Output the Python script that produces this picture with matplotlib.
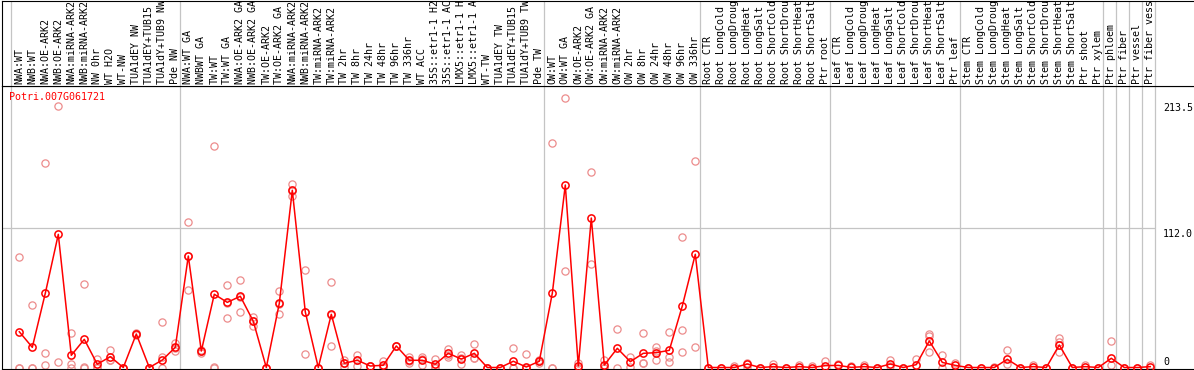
import matplotlib
matplotlib.use("Agg")
import matplotlib.pyplot as plt

# sample names (column headers)
samples = [
    "NWA:WT", "NWB:WT", "NWA:OE-ARK2", "NWB:OE-ARK2", "NWA:miRNA-ARK2", "NWB:miRNA-ARK2",
    "NW 0hr", "WT H2O", "WT-NW", "TUA1dEY NW", "TUA1dEY+TUB15 NW", "TUA1dY+TUB9 NW", "Pde NW",
    "NWA:WT GA", "NWBWT GA", "TW:WT", "TW:WT GA", "NWA:OE-ARK2 GA", "NWB:OE-ARK2 GA",
    "TW:OE-ARK2", "TW:OE-ARK2 GA", "NWA:miRNA-ARK2", "NWB:miRNA-ARK2", "TW:miRNA-ARK2",
    "TW:miRNA-ARK2", "TW 2hr", "TW 8hr", "TW 24hr", "TW 48hr", "TW 96hr", "TW 336hr",
    "WT ACC", "35S::etr1-1 H2O", "35S::etr1-1 ACC", "LMX5::etr1-1 H2O", "LMX5::etr1-1 ACC",
    "WT-TW", "TUA1dEY TW", "TUA1dEY+TUB15 TW", "TUA1dY+TUB9 TW", "Pde TW",
    "OW:WT", "OW:WT GA", "OW:OE-ARK2", "OW:OE-ARK2 GA", "OW:miRNA-ARK2", "OW:miRNA-ARK2",
    "OW 2hr", "OW 8hr", "OW 24hr", "OW 48hr", "OW 96hr", "OW 336hr",
    "Root CTR", "Root LongCold", "Root LongDrought", "Root LongHeat", "Root LongSalt",
    "Root ShortCold", "Root ShortDrought", "Root ShortHeat", "Root ShortSalt", "Ptr root",
    "Leaf CTR", "Leaf LongCold", "Leaf LongDrought", "Leaf LongHeat", "Leaf LongSalt",
    "Leaf ShortCold", "Leaf ShortDrought", "Leaf ShortHeat", "Leaf ShortSalt", "Ptr leaf",
    "Stem CTR", "Stem LongCold", "Stem LongDrought", "Stem LongHeat", "Stem LongSalt",
    "Stem ShortCold", "Stem ShortDrought", "Stem ShortHeat", "Stem ShortSalt", "Ptr shoot",
    "Ptr xylem", "Ptr phloem", "Ptr fiber", "Ptr vessel", "Ptr fiber vessel",
]

# mean expression per sample
means = [
    28.7, 16.2, 59.6, 106.9, 9.8, 22.6, 2.6, 8.7, 0, 26.9, 0, 6.0, 16.2,
    89.5, 13.2, 58.8, 52.3, 57.2, 37.1, 0, 51.5, 142.3, 44.6, 0, 42.7, 3.4, 5.8,
    1.2, 1.8, 17.3, 5.8, 5.8, 2.6, 11.4, 6.8, 11.4, 0, 0, 5.0, 0.4, 5.0,
    59.6, 146.5, 1.2, 120.0, 2.0, 15.4, 4.7, 11.4, 11.9, 13.8, 49.4, 90.9,
    0, 0, 0, 2.8, 0, 0.7, 0, 0.7, 0, 1.5,
    1.7, 0.1, 0.7, 0, 2.8, 0, 2.3, 21.3, 4.1, 1.7,
    0, 0, 0, 6.6, 0, 0.7, 0, 18.1, 0, 0.7, 0,
    7.4, 0, 0, 0.7,
]

# replicate values per sample
reps = [
    [88.5, 0, 0], [50, 0, 0], [164, 11.4, 1.8], [210, 4.7], [27.5, 2.8, 0],
    [67, 0, 0.5], [7.1, 0.7, 0], [14, 6, 6], [0, 0], [28, 26, 27], [0, 0],
    [36.3, 8.2, 0], [19.4, 13.5, 15.7],
    [116.8, 62.2, 89.5], [14, 12, 13.5], [177.6, 0.4, 0], [66, 39.5, 51.5],
    [70.3, 44.3, 57], [40.8, 33.3, 37.2], [0, 0], [61.2, 42.7, 50.6],
    [147.1, 137.7, 142], [78.3, 10.8, 44.7], [0, 0], [68.4, 17.3, 42.4],
    [6, 4, 0.2], [9.8, 6.4, 1.2], [1.5, 1, 1], [5, 0.3, 0.1], [17.3, 17.3],
    [8.7, 3.4, 5.3], [8.7, 6.9, 1.8], [7.1, 0.7, 0], [15.1, 8.7, 10.4],
    [10.3, 2.6, 7.5], [18.6, 7.9, 7.7], [0, 0], [0, 0], [15.4, 0, 0],
    [10.8, 0], [6, 4, 5],
    [180, 0, 0], [216.1, 77.5], [3.9, 0, 0], [156.7, 82.9], [6, 0, 0],
    [30.9, 0], [8.7, 0.7], [27.5, 3.4, 3.3], [16.5, 12.9, 6], [28.5, 8.5, 4.4],
    [104.8, 29.9, 12.7], [165.8, 16.7],
    [0], [0], [1.2], [3.9, 0.7], [0], [2.5], [0], [1.7], [0.9], [5],
    [3], [1.2], [2], [0], [6, 1.2], [0], [6.6], [26.9, 25.3, 12.2], [10.3, 0], [3.3],
    [0], [0], [0.7], [13.8, 2.5], [0], [2], [0], [23.4, 20.7, 12.2], [0], [2], [0],
    [21.5, 2], [0], [0], [1.7],
]

# last column (1-based) of each sample group
group_ends = [13, 41, 53, 63, 73, 84, 85, 86, 87, 88]
gene_id = "Potri.007G061721"
y_ticks = [213.5, 112.0, 0]
y_tick_labels = ["213.5", "112.0", "0"]

W, H = 1194, 370
COL0, COLW = 19.3, 13.0  # pixel centre of first column, column pitch


def px_to_x(px):
    return (px - COL0) / COLW


RED = "#ff0000"
PINK = "#ec8c8c"
GRID = "#c4c4c4"
FONT = "DejaVu Sans Mono"

fig = plt.figure(figsize=(W / 100, H / 100), dpi=100)
ax = fig.add_axes([1.5 / W, (H - 368.5) / H, (1193.5 - 1.5) / W, (368.5 - 85.5) / H])
hd = fig.add_axes([1.5 / W, (H - 85.5) / H, (1193.5 - 1.5) / W, (85.5 - 0.5) / H])

xlim = (px_to_x(1.5), px_to_x(1193.5))
for a in (ax, hd):
    a.set_xlim(*xlim)
    a.set_xticks([])
    a.set_yticks([])
    for s in a.spines.values():
        s.set_color("black")
        s.set_linewidth(0.8)
    a.spines["right"].set_visible(False)

ax.set_ylim(-0.8, 226.4)
hd.set_ylim(85.0, 0.0)

# separators
sep_x = [px_to_x(10.7)] + [g - 1 + 5 / COLW for g in group_ends]
for x in sep_x:
    ax.axvline(x, color=GRID, lw=0.9, zorder=0)
    hd.axvline(x, color=GRID, lw=0.9, zorder=0)
ax.hlines(112.0, xlim[0], sep_x[-1], color=GRID, lw=0.9, zorder=0)

# replicates
for i, vals in enumerate(reps):
    ax.plot([i] * len(vals), vals, ls="none", marker="o", ms=5.2, mfc="none",
            mec=PINK, mew=0.9, zorder=2)

# means
xs = list(range(len(means)))
ax.plot(xs, means, color=RED, lw=1.1, marker="o", ms=5.2, mfc="none",
        mec=RED, mew=1.1, zorder=3)

# header labels
for i, name in enumerate(samples):
    hd.text(i, 83.8, name, rotation=90, ha="center", va="bottom",
            fontsize=7.2, family=FONT, color="black", clip_on=True)

ax.text(px_to_x(9.3), 217.4, gene_id, color=RED, fontsize=7.2, family=FONT,
        ha="left", va="center")

for v, lab in zip(y_ticks, y_tick_labels):
    ax.text(px_to_x(1163), v + (0.8 if v == 0 else -1.0), lab,
            ha="left", va="bottom" if v == 0 else "top",
            fontsize=7.2, family=FONT, color="black")

fig.savefig("out.png", dpi=100)
